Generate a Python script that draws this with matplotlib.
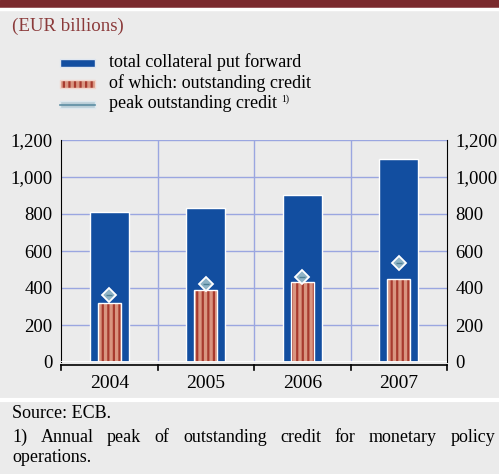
import numpy as np
import matplotlib.pyplot as plt
from matplotlib.patches import Rectangle
from matplotlib.lines import Line2D
from matplotlib.colors import to_rgba

plt.rcParams['font.family'] = ['Liberation Serif', 'DejaVu Serif']
plt.rcParams['hatch.linewidth'] = 1.6

years = ['2004', '2005', '2006', '2007']
total_collateral = [810, 830, 900, 1095]
outstanding_credit = [320, 390, 430, 450]
peak_credit = [360, 422, 459, 535]
yticks = [0, 200, 400, 600, 800, 1000, 1200]

BG = '#ebebeb'
BLUE = '#124ea0'
SALMON = '#d99580'
STRIPE = '#a83a2e'
GRID = '#9aa6e0'
PEAK = '#8fb4c6'

W, H = 499, 474
fig = plt.figure(figsize=(W / 100, H / 100), dpi=100, facecolor=BG)
renderer = fig.canvas.get_renderer()

def fx(px):
    return px / W

def fy(py):
    return 1 - py / H

def width_px(txt):
    return txt.get_window_extent(renderer=renderer).width

# header band and separators
fig.patches.append(Rectangle((0, fy(7.5)), 1, 7.5 / H, transform=fig.transFigure,
                             color='#7b2b2e', zorder=0))
fig.add_artist(Line2D([0, 1], [fy(9), fy(9)], color='white', lw=2.5))
fig.add_artist(Line2D([0, 1], [fy(400), fy(400)], color='white', lw=3))

fig.text(fx(12), fy(26), '(EUR billions)', color='#8b3a3a', fontsize=13.6, va='center')

# legend (manual)
lx0, lx1 = 60, 95
fig.patches.append(Rectangle((fx(lx0), fy(67)), fx(lx1 - lx0), 8 / H, transform=fig.transFigure,
                             facecolor=BLUE, edgecolor='#dfe6f0', lw=1))
leg_red = Rectangle((fx(lx0), fy(88)), fx(lx1 - lx0), 8 / H, transform=fig.transFigure,
                    facecolor=SALMON, edgecolor='#f2d6cc', lw=1, hatch='|||')
leg_red._hatch_color = to_rgba(STRIPE)
fig.patches.append(leg_red)
fig.patches.append(Rectangle((fx(lx0), fy(108)), fx(lx1 - lx0), 7 / H, transform=fig.transFigure,
                             facecolor='#b9ced8', edgecolor='#dde8ee', lw=1))
fig.add_artist(Line2D([fx(lx0), fx(lx1)], [fy(104.5), fy(104.5)], color='#5d8ea3', lw=1.2))
fig.text(fx(109), fy(62), 'total collateral put forward', fontsize=13, va='center')
fig.text(fx(109), fy(83), 'of which: outstanding credit', fontsize=13, va='center')
t_peak = fig.text(fx(109), fy(103), 'peak outstanding credit', fontsize=13, va='center')
fig.text(fx(109 + width_px(t_peak) + 4), fy(99), '1)', fontsize=7, va='center')

# main axes
ax = fig.add_axes([fx(61), fy(362), fx(447 - 61), (362 - 140) / H])
ax.set_facecolor(BG)
x = np.arange(len(years))

ax.bar(x, total_collateral, width=0.40, color=BLUE, edgecolor='white', lw=1, zorder=3)
inner = ax.bar(x, outstanding_credit, width=0.24, color=SALMON, edgecolor='white',
               lw=1, zorder=4, hatch='|||')
for b in inner:
    b._hatch_color = to_rgba(STRIPE)
ax.plot(x, peak_credit, ls='none', marker='D', ms=7, mfc=PEAK, mec='white', mew=1.3, zorder=5)
ax.plot(x, peak_credit, ls='none', marker='_', ms=5, mec='#4f7f94', mew=1, zorder=6)

ax.set_xlim(-0.5, len(years) - 0.5)
ax.set_ylim(0, 1200)
ax.set_yticks(yticks)
ax.set_yticklabels([f'{v:,}' for v in yticks])
ax.tick_params(axis='y', length=0, labelsize=13.5, pad=6, labelright=True, right=False)
for v in yticks[1:]:
    ax.axhline(v, color=GRID, lw=1, zorder=1)
for b in np.arange(0.5, len(years) - 0.5):
    ax.axvline(b, color=GRID, lw=1, zorder=1)

ax.set_xticks([])
for s in ['top', 'bottom']:
    ax.spines[s].set_visible(False)
ax.spines['left'].set_color('black')
ax.spines['right'].set_color('black')
ax.axhline(0, color='white', lw=2, zorder=6)

# bracket-style x axis below
xa = ax.get_xaxis_transform()
for i, yr in enumerate(years):
    ax.text(i, -0.06, yr, transform=xa, ha='center', va='top', fontsize=14)
ax.plot([-0.5, 3.5], [-0.012, -0.012], transform=xa, color='black', lw=1.2, clip_on=False, zorder=7)
for b in np.arange(-0.5, len(years)):
    ax.plot([b, b], [-0.012, -0.035], transform=xa, color='black', lw=1.2, clip_on=False, zorder=7)

# footnotes (second line fully justified)
fig.text(fx(12), fy(413), 'Source: ECB.', fontsize=13, va='center')
words = '1) Annual peak of outstanding credit for monetary policy'.split()
texts = [fig.text(0, fy(437), w, fontsize=13, va='center') for w in words]
widths = [width_px(t) for t in texts]
left, right = 12, 495
gap = (right - left - sum(widths)) / (len(words) - 1)
xp = left
for t, w in zip(texts, widths):
    t.set_x(fx(xp))
    xp += w + gap
fig.text(fx(12), fy(458), 'operations.', fontsize=13, va='center')

fig.savefig('out.png', dpi=100, facecolor=BG)
